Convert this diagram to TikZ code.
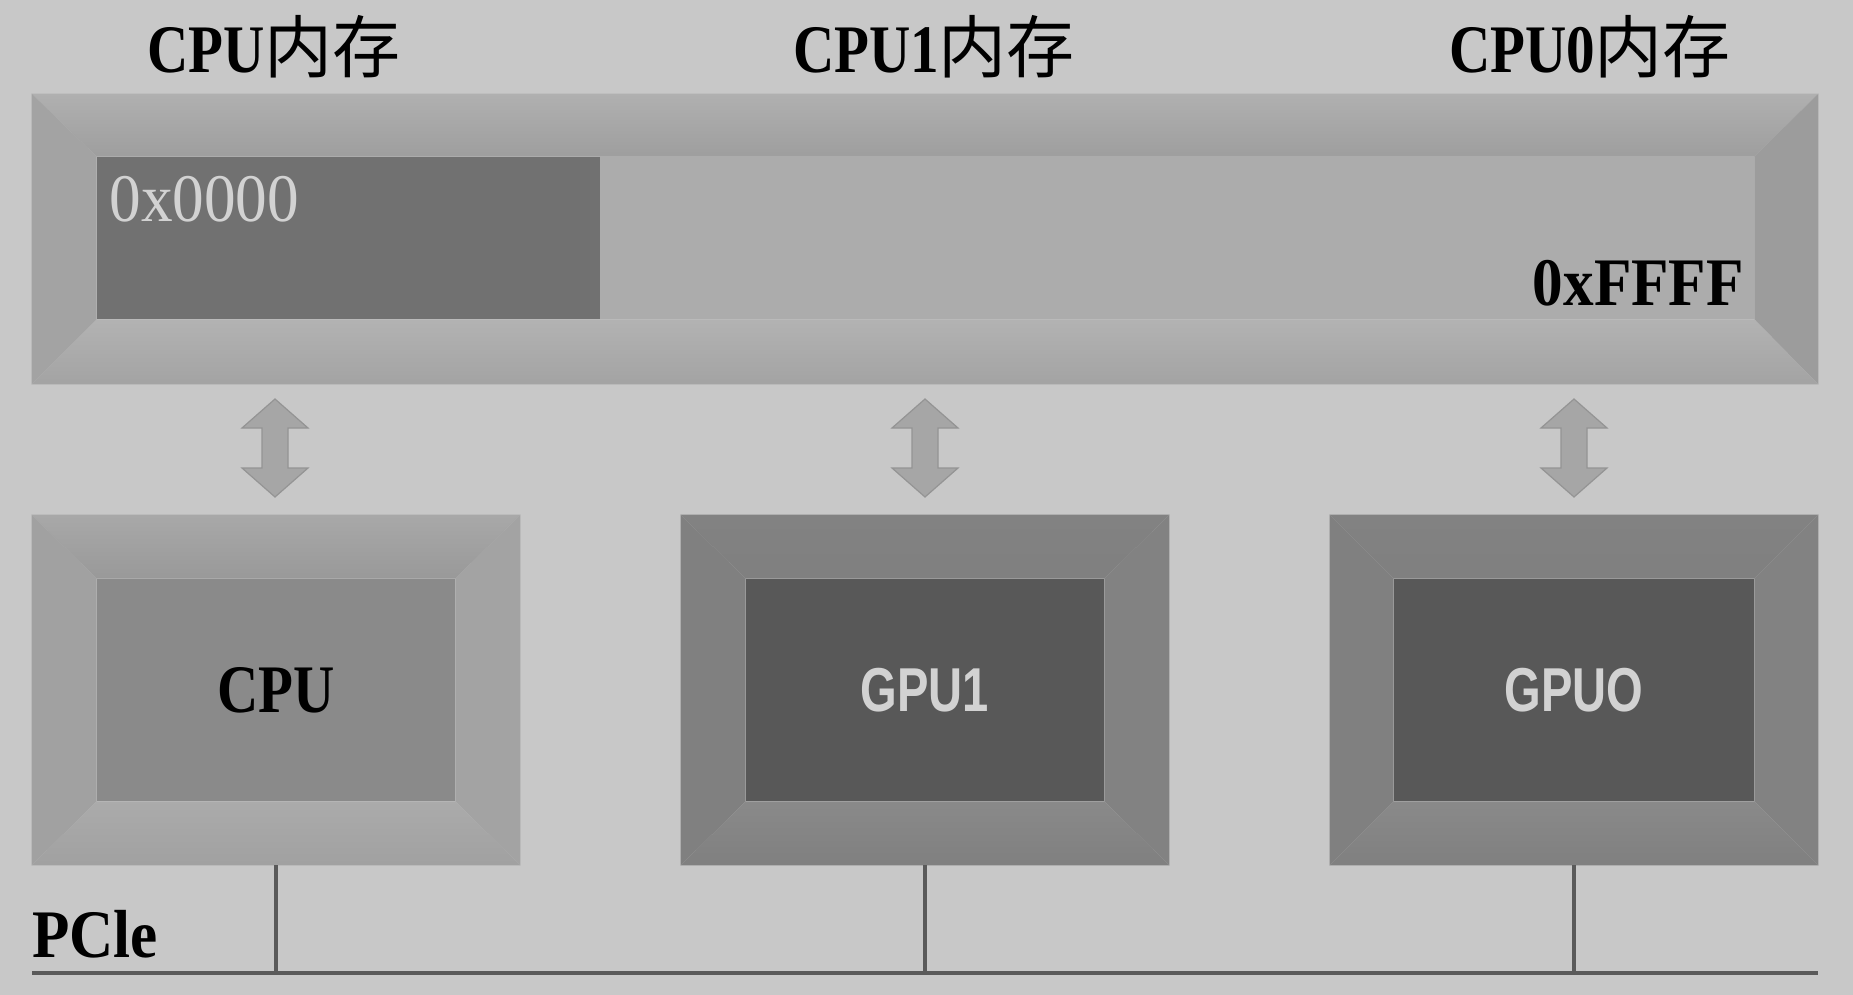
\documentclass[tikz,border=0pt]{standalone}
\usepackage{fontspec}
\newfontfamily\lserif[FakeStretch=0.84]{Liberation Serif}
\newfontfamily\lserifw[FakeStretch=0.93]{Liberation Serif}
\newfontfamily\lserifm[FakeStretch=0.9]{Liberation Serif}
\newfontfamily\lsans[FakeStretch=0.76]{Liberation Sans}
\newfontfamily\cjk{Noto Sans CJK SC}
\definecolor{bgc}{RGB}{200,200,200}
\definecolor{memlight}{RGB}{172,172,172}
\definecolor{memdark}{RGB}{113,113,113}
\definecolor{cpuin}{RGB}{138,138,138}
\definecolor{gpuin}{RGB}{88,88,88}
\definecolor{lbltxt}{RGB}{210,210,210}
\definecolor{arrowc}{RGB}{166,166,166}
\definecolor{arrowd}{RGB}{148,148,148}
\definecolor{busc}{RGB}{90,90,90}
\tikzset{
  titletext/.style={font=\fontsize{34}{40}\selectfont\lserif\bfseries, text=black, inner sep=0pt},
  outerbox/.style={rectangle, inner sep=0pt},
  innerbox/.style={rectangle, inner sep=0pt},
  busline/.style={draw=busc, line width=1.6pt},
  dblarrow/.style={fill=arrowc, draw=arrowd, line width=0.6pt, line join=miter},
}
% bevel: outer, inner, top-top, top-bottom, left, right, bottom-top, bottom-bottom
\newcommand\bevelring[8]{%
  \shade[top color=#3, bottom color=#4] (#1.north west) -- (#1.north east) -- (#2.north east) -- (#2.north west) -- cycle;
  \fill[#5] (#1.north west) -- (#2.north west) -- (#2.south west) -- (#1.south west) -- cycle;
  \fill[#6] (#1.north east) -- (#2.north east) -- (#2.south east) -- (#1.south east) -- cycle;
  \shade[top color=#7, bottom color=#8] (#1.south west) -- (#1.south east) -- (#2.south east) -- (#2.south west) -- cycle;
}
\begin{document}
\begin{tikzpicture}[x=0.5pt,y=-0.5pt]
\fill[bgc] (0,0) rectangle (1853,995);
\useasboundingbox (0,0) rectangle (1853,995);

% titles
\node[titletext, anchor=base] (t0) at (274,73) {CPU{\cjk\mdseries 内存}};
\node[titletext, anchor=base] (t1) at (934,73) {CPU1{\cjk\mdseries 内存}};
\node[titletext, anchor=base] (t2) at (1590,73) {CPU0{\cjk\mdseries 内存}};

% memory bar
\node[outerbox, minimum width=893pt, minimum height=145pt] (mem) at (925,239) {};
\node[innerbox, fill=memlight, minimum width=828.5pt, minimum height=81pt] (memin) at (925.5,238) {};
\node[innerbox, fill=memdark, minimum width=251.5pt, minimum height=81pt] (memlo) at (348.5,238) {};
\bevelring{mem}{memin}{white!69!black}{white!62!black}{white!64!black}{white!61!black}{white!70!black}{white!64!black}
\node[anchor=base west, inner sep=0pt, text=lbltxt, font=\fontsize{34}{40}\selectfont\lserifw] (lo) at (109,221) {0x0000};
\node[anchor=base east, inner sep=0pt, text=black, font=\fontsize{34}{40}\selectfont\lserifm\bfseries] (hi) at (1744,305) {0xFFFF};

% processors
\node[outerbox, minimum width=244pt, minimum height=175pt] (cpu) at (276,690) {};
\node[innerbox, fill=cpuin, minimum width=179pt, minimum height=111pt, font=\fontsize{34}{40}\selectfont\lserif\bfseries, text=black] (cpuin) at (276,690) {CPU};
\bevelring{cpu}{cpuin}{white!66!black}{white!60!black}{white!63!black}{white!64!black}{white!67!black}{white!63!black}

\node[outerbox, minimum width=244pt, minimum height=175pt] (gpu1) at (925,690) {};
\node[innerbox, fill=gpuin, minimum width=179pt, minimum height=111pt, font=\fontsize{31}{36}\selectfont\lsans\bfseries, text=lbltxt] (gpu1in) at (925,690) {GPU1};
\bevelring{gpu1}{gpu1in}{white!51!black}{white!50!black}{white!50!black}{white!51!black}{white!54!black}{white!50!black}

\node[outerbox, minimum width=244pt, minimum height=175pt] (gpu0) at (1574,690) {};
\node[innerbox, fill=gpuin, minimum width=180pt, minimum height=111pt, font=\fontsize{31}{36}\selectfont\lsans\bfseries, text=lbltxt] (gpu0in) at (1574,690) {GPUO};
\bevelring{gpu0}{gpu0in}{white!51!black}{white!50!black}{white!50!black}{white!51!black}{white!54!black}{white!50!black}

% double arrows between memory and processors
\foreach \cx in {275,925,1574}{
  \draw[dblarrow] (\cx,399) -- (\cx+33,428) -- (\cx+13,428) -- (\cx+13,468) -- (\cx+33,468) -- (\cx,497)
     -- (\cx-33,468) -- (\cx-13,468) -- (\cx-13,428) -- (\cx-33,428) -- cycle;
}

% PCIe bus
\coordinate (busL) at (32,973);
\coordinate (busR) at (1818,973);
\draw[busline] (busL) -- (busR);
\draw[busline] (cpu.south) -- (cpu.south |- busL);
\draw[busline] (gpu1.south) -- (gpu1.south |- busL);
\draw[busline] (gpu0.south) -- (gpu0.south |- busL);
\node[anchor=base west, inner sep=0pt, font=\fontsize{34}{40}\selectfont\lserifm\bfseries] (pcie) at (32,957) {PCle};
\end{tikzpicture}
\end{document}
